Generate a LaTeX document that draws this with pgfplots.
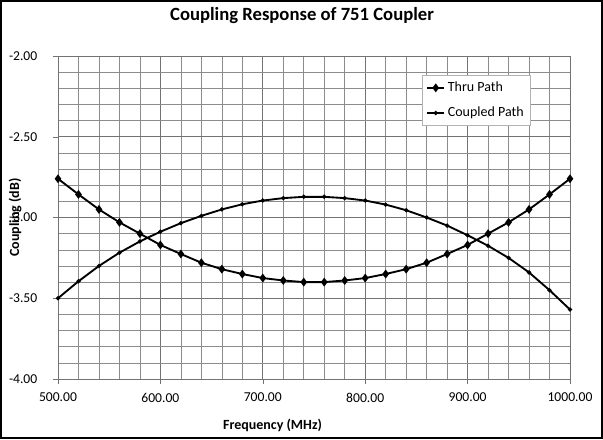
\documentclass[border=0pt]{standalone}
\usepackage{pgfplots}
\pgfplotsset{compat=1.18}
\usepackage{fontspec}
\setmainfont{Carlito}
\begin{document}
\begin{tikzpicture}[x=1pt,y=1pt]
\begin{axis}[
  at={(0,0)}, anchor=south west,
  scale only axis, width=384pt, height=242.25pt,
  xmin=500, xmax=1000, ymin=-4, ymax=-2,
  xtick={500,600,...,1000}, ytick={-4,-3.5,...,-2},
  minor x tick num=4, minor y tick num=4,
  grid=both,
  major grid style={draw=black!55, line width=0.6pt},
  minor grid style={draw=black!45, line width=0.4pt},
  axis line style={draw=black!55, line width=0.6pt},
  tick style={draw=black!55},
  major tick length=4pt, minor tick length=0pt,
  tick align=outside,
  xtick pos=bottom, ytick pos=left,
  /pgf/number format/assume math mode=true,
  /pgf/number format/.cd, fixed, fixed zerofill, precision=2, 1000 sep={}, /pgfplots/.cd,
  scaled ticks=false,
  ticklabel style={font=\fontsize{10.2}{12}\selectfont, black},
  xticklabel style={yshift=-3pt},
  yticklabel style={xshift=-8pt},
  title={Coupling Response of 751 Coupler},
  title style={font=\fontsize{14}{16}\selectfont\bfseries, at={(axis description cs:0.4766,1.102)}, anchor=center},
  xlabel={Frequency (MHz)},
  xlabel style={font=\fontsize{10.5}{12}\selectfont\bfseries, at={(axis description cs:0.419,-0.143)}, anchor=center},
  ylabel={Coupling (dB)},
  ylabel style={font=\fontsize{10.5}{12}\selectfont\bfseries, at={(axis description cs:-0.084,0.5)}, anchor=center, rotate=0},
  legend style={at={(axis description cs:0.711,0.941)}, anchor=north west, draw=black!30, fill=white, font=\fontsize{10.5}{12}\selectfont, row sep=6pt, inner sep=3pt},
  legend cell align=left,
  legend image code/.code={\draw[#1] (0cm,0cm) -- (0.45cm,0cm); \draw[#1,mark repeat=1] plot coordinates {(0.225cm,0cm)};},
]
\addplot[black, line width=1.4pt, mark=diamond*, mark size=2.2pt, mark options={solid}] coordinates {
(500,-2.76) (520,-2.857) (540,-2.95) (560,-3.03) (580,-3.10) (600,-3.17) (620,-3.226) (640,-3.28) (660,-3.32) (680,-3.35) (700,-3.375) (720,-3.39) (740,-3.40) (760,-3.40) (780,-3.39) (800,-3.375) (820,-3.35) (840,-3.32) (860,-3.28) (880,-3.226) (900,-3.17) (920,-3.10) (940,-3.03) (960,-2.95) (980,-2.857) (1000,-2.76)
};
\addlegendentry{Thru Path}
\addplot[black, line width=1.4pt, mark=*, mark size=0.8pt, mark options={solid}] coordinates {
(500,-3.50) (520,-3.395) (540,-3.30) (560,-3.218) (580,-3.148) (600,-3.088) (620,-3.035) (640,-2.99) (660,-2.95) (680,-2.918) (700,-2.895) (720,-2.88) (740,-2.872) (760,-2.872) (780,-2.88) (800,-2.895) (820,-2.92) (840,-2.955) (860,-3.00) (880,-3.05) (900,-3.11) (920,-3.175) (940,-3.25) (960,-3.34) (980,-3.45) (1000,-3.57)
};
\addlegendentry{Coupled Path}
\end{axis}
\pgfresetboundingbox
\useasboundingbox (-43.5pt,-45pt) rectangle (408.75pt,284.25pt);
\draw[black, line width=1pt] (-42.75pt,-44.25pt) rectangle (408pt,283.5pt);
\end{tikzpicture}
\end{document}
